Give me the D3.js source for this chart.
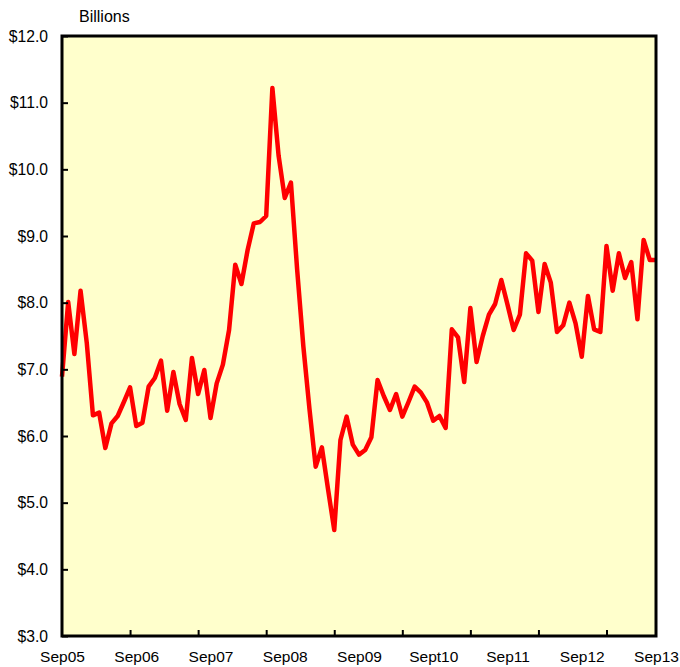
<!DOCTYPE html>
<html>
<head>
<meta charset="utf-8">
<script src="https://cdn.jsdelivr.net/npm/d3@7"></script>
<style>
  html, body { margin: 0; padding: 0; background: #ffffff; }
  svg { display: block; }
  text { font-family: "Liberation Sans", Arial, sans-serif; fill: #000; }
</style>
</head>
<body>
<svg id="chart" width="680" height="667"></svg>
<script>
// Monthly values, Sep 2005 .. Sep 2013 (billions of dollars)
const values = [
  6.89, 8.01, 7.23, 8.18, 7.40, 6.31, 6.35, 5.82, 6.19, 6.30,
  6.51, 6.73, 6.15, 6.20, 6.74, 6.87, 7.13, 6.38, 6.96, 6.48,
  6.24, 7.17, 6.63, 6.99, 6.27, 6.79, 7.07, 7.59, 8.57, 8.28,
  8.79, 9.19, 9.21, 9.30, 11.22, 10.21, 9.57, 9.80, 8.50, 7.35,
  6.40, 5.54, 5.83, 5.20, 4.59, 5.94, 6.29, 5.87, 5.72, 5.79,
  5.98, 6.84, 6.60, 6.39, 6.63, 6.29, 6.51, 6.74, 6.65, 6.50,
  6.23, 6.30, 6.12, 7.60, 7.48, 6.81, 7.92, 7.11, 7.50, 7.82,
  7.98, 8.34, 7.97, 7.59, 7.82, 8.74, 8.63, 7.86, 8.58, 8.30,
  7.56, 7.66, 8.00, 7.69, 7.19, 8.10, 7.60, 7.56, 8.85, 8.18,
  8.74, 8.37, 8.61, 7.75, 8.94, 8.64, 8.64
];
const xLabels = ["Sep05", "Sep06", "Sep07", "Sep08", "Sep09", "Sept10", "Sep11", "Sep12", "Sep13"];
const xLabelIndex = [0, 12, 24, 36, 48, 60, 72, 84, 96];
const xTickIndex = [11, 22, 33, 44, 55, 66, 77, 88];
const yTicks = [3, 4, 5, 6, 7, 8, 9, 10, 11, 12];
const unitLabel = "Billions";

const svg = d3.select("#chart");
const L = 62, R = 656, T = 36, B = 636;

const x = d3.scaleLinear().domain([0, values.length - 1]).range([L, R]);
const y = d3.scaleLinear().domain([3, 12]).range([B, T]);

// plot background
svg.append("rect")
  .attr("x", L).attr("y", T).attr("width", R - L).attr("height", B - T)
  .attr("fill", "#ffffcc");

// line
const line = d3.line().x((d, i) => x(i)).y(d => y(d));
svg.append("path")
  .datum(values)
  .attr("d", line)
  .attr("fill", "none")
  .attr("stroke", "#ff0000")
  .attr("stroke-width", 4.5)
  .attr("stroke-linejoin", "round");

// y axis
const yAxis = svg.append("g")
  .attr("transform", `translate(${L},0)`)
  .call(d3.axisLeft(y).tickValues(yTicks).tickSize(-6).tickPadding(14)
    .tickFormat(d => "$" + d.toFixed(1)));
yAxis.select(".domain").remove();
yAxis.selectAll("line").attr("stroke", "#000").attr("stroke-width", 2);
yAxis.selectAll("text").attr("font-size", 15.7).style("font-family", "Liberation Sans, Arial, sans-serif");

// x tick marks
const xTickAxis = svg.append("g")
  .attr("transform", `translate(0,${B})`)
  .call(d3.axisBottom(x).tickValues(xTickIndex).tickSize(-6).tickFormat(""));
xTickAxis.select(".domain").remove();
xTickAxis.selectAll("line").attr("stroke", "#000").attr("stroke-width", 2);

// x labels
const xLabelAxis = svg.append("g")
  .attr("transform", `translate(0,${B})`)
  .call(d3.axisBottom(x).tickValues(xLabelIndex).tickSize(0).tickPadding(14.5)
    .tickFormat((d, i) => xLabels[i]));
xLabelAxis.select(".domain").remove();
xLabelAxis.selectAll("text").attr("font-size", 15.5).style("font-family", "Liberation Sans, Arial, sans-serif");

// frame
svg.append("rect")
  .attr("x", L).attr("y", T).attr("width", R - L).attr("height", B - T)
  .attr("fill", "none").attr("stroke", "#000").attr("stroke-width", 3);

// unit label
svg.append("text")
  .attr("x", 79).attr("y", 22)
  .attr("font-size", 16)
  .text(unitLabel);
</script>
</body>
</html>
